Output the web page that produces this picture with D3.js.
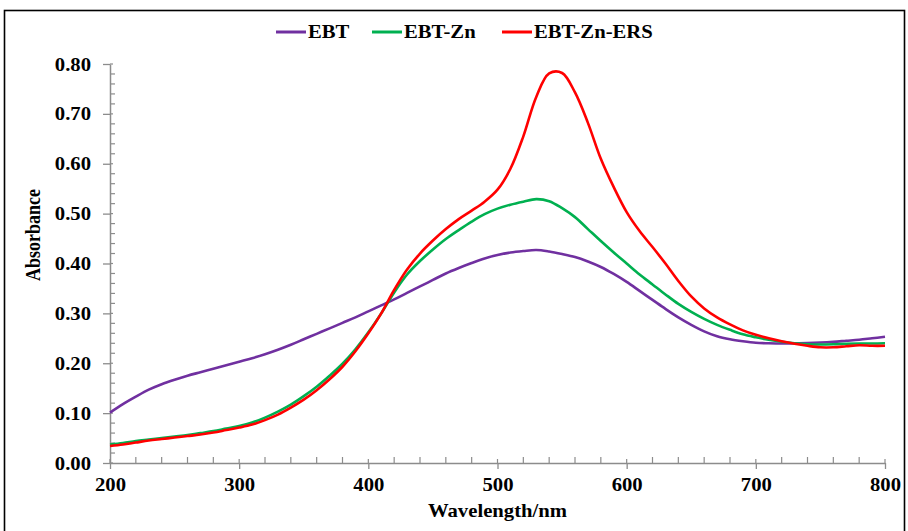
<!DOCTYPE html>
<html>
<head>
<meta charset="utf-8">
<script src="https://cdn.jsdelivr.net/npm/d3@7"></script>
<style>
  html, body { margin: 0; padding: 0; background: #fff; }
  svg { display: block; }
  text { font-family: "Liberation Serif", "Times New Roman", serif; font-weight: bold; fill: #000; }
</style>
</head>
<body>
<svg id="chart" width="908" height="531"></svg>
<script>
// UV-Vis absorption spectra, sampled every 10 nm
const wavelengths = d3.range(200, 801, 10);

const ebt = [
  0.101, 0.118, 0.133, 0.147, 0.158, 0.167, 0.175, 0.182, 0.189, 0.196, 0.203,
  0.210, 0.218, 0.227, 0.237, 0.248, 0.259, 0.270, 0.281, 0.292, 0.304,
  0.316, 0.328, 0.341, 0.354, 0.367, 0.380, 0.391, 0.401, 0.410, 0.417,
  0.422, 0.425, 0.427, 0.424, 0.419, 0.413, 0.404, 0.393, 0.379, 0.363,
  0.345, 0.327, 0.309, 0.292, 0.277, 0.264, 0.254, 0.248, 0.244, 0.241,
  0.240, 0.2395, 0.240, 0.2405, 0.2415, 0.243, 0.245, 0.247, 0.250, 0.253
];

const ebtZn = [
  0.037, 0.040, 0.044, 0.047, 0.050, 0.053, 0.056, 0.060, 0.064, 0.069, 0.074,
  0.081, 0.091, 0.103, 0.117, 0.134, 0.153, 0.175, 0.199, 0.228, 0.262,
  0.300, 0.342, 0.378, 0.405, 0.428, 0.449, 0.467, 0.484, 0.499, 0.510,
  0.518, 0.524, 0.529, 0.525, 0.511, 0.493, 0.469, 0.445, 0.422, 0.400,
  0.378, 0.358, 0.338, 0.319, 0.303, 0.289, 0.277, 0.267, 0.258, 0.252,
  0.247, 0.243, 0.240, 0.238, 0.2375, 0.238, 0.239, 0.2395, 0.2395, 0.240
];

const ebtZnErs = [
  0.034, 0.037, 0.041, 0.045, 0.048, 0.051, 0.054, 0.057, 0.061, 0.066, 0.071,
  0.077, 0.086, 0.097, 0.111, 0.127, 0.146, 0.168, 0.193, 0.224, 0.260,
  0.300, 0.347, 0.388, 0.420, 0.446, 0.469, 0.489, 0.506, 0.524, 0.548,
  0.590, 0.655, 0.734, 0.781, 0.782, 0.743, 0.682, 0.610, 0.553, 0.503,
  0.465, 0.433, 0.400, 0.365, 0.334, 0.310, 0.292, 0.278, 0.266, 0.257,
  0.250, 0.244, 0.239, 0.235, 0.232, 0.232, 0.234, 0.236, 0.235, 0.235
];

const seriesNames = ["EBT", "EBT-Zn", "EBT-Zn-ERS"];
const seriesValues = [ebt, ebtZn, ebtZnErs];
const seriesColors = ["#7030A0", "#00B050", "#FF0000"];

const xTicks = [200, 300, 400, 500, 600, 700, 800];
const yTicks = [0, 0.1, 0.2, 0.3, 0.4, 0.5, 0.6, 0.7, 0.8];
const xMinor = d3.range(200, 801, 20);
const yMinor = d3.range(0, 0.801, 0.02);

const svg = d3.select("#chart");
const axisColor = "#8c8c8c";
const stretch = 1.15; // glyphs are drawn slightly wide

// outer frame
svg.append("rect")
  .attr("x", 4.5).attr("y", 10.5)
  .attr("width", 900).attr("height", 560)
  .attr("fill", "none").attr("stroke", "#000").attr("stroke-width", 1.6);

const x = d3.scaleLinear().domain([200, 800]).range([110, 885]);
const y = d3.scaleLinear().domain([0, 0.8]).range([463, 64]);

// y axis: major ticks outward with labels
const yAxis = svg.append("g").attr("transform", `translate(${x(200)},0)`)
  .call(d3.axisLeft(y).tickValues(yTicks).tickSize(7).tickSizeOuter(0).tickFormat(d3.format(".2f")));
yAxis.select(".domain").attr("stroke", axisColor).attr("stroke-width", 1.5);
yAxis.selectAll(".tick line").attr("stroke", axisColor).attr("stroke-width", 1.3);
yAxis.selectAll(".tick text")
  .attr("x", null).attr("dy", null)
  .attr("font-size", 18).attr("text-anchor", "end")
  .attr("transform", `translate(-19,6) scale(${stretch},1)`);

// y axis inner ticks (minor and major)
svg.append("g").selectAll("line").data(yMinor).join("line")
  .attr("x1", x(200)).attr("x2", (d, i) => x(200) + (i % 5 === 0 ? 3 : 5))
  .attr("y1", d => y(d)).attr("y2", d => y(d))
  .attr("stroke", axisColor).attr("stroke-width", 1.2);

// x axis: major ticks outward with labels
const xAxis = svg.append("g").attr("transform", `translate(0,${y(0)})`)
  .call(d3.axisBottom(x).tickValues(xTicks).tickSize(6).tickSizeOuter(0).tickFormat(d3.format("d")));
xAxis.select(".domain").attr("stroke", axisColor).attr("stroke-width", 1.5);
xAxis.selectAll(".tick line").attr("stroke", axisColor).attr("stroke-width", 1.3);
xAxis.selectAll(".tick text")
  .attr("y", null).attr("dy", null)
  .attr("font-size", 18).attr("text-anchor", "middle")
  .attr("transform", `translate(0,28) scale(${stretch},1)`);

// x axis inner ticks
svg.append("g").selectAll("line").data(xMinor).join("line")
  .attr("x1", d => x(d)).attr("x2", d => x(d))
  .attr("y1", y(0)).attr("y2", (d, i) => y(0) - (i % 5 === 0 ? 4 : 6))
  .attr("stroke", axisColor).attr("stroke-width", 1.2);

// axis titles
svg.append("text")
  .attr("text-anchor", "middle").attr("font-size", 18)
  .attr("transform", `translate(${(x(200) + x(800)) / 2},517) scale(${stretch},1)`)
  .text("Wavelength/nm");

svg.append("text")
  .attr("text-anchor", "middle").attr("font-size", 18)
  .attr("transform", `translate(40,235) rotate(-90) scale(1,${stretch})`)
  .text("Absorbance");

// spectra
const line = d3.line()
  .x((d, i) => x(wavelengths[i]))
  .y(d => y(d))
  .curve(d3.curveCatmullRom.alpha(0.5));

svg.append("g").selectAll("path").data(seriesValues).join("path")
  .attr("d", d => line(d))
  .attr("fill", "none")
  .attr("stroke", (d, i) => seriesColors[i])
  .attr("stroke-width", 2.6)
  .attr("stroke-linejoin", "round");

// legend
const legendX = [276, 372, 502];
const legend = svg.append("g").selectAll("g").data(seriesNames).join("g")
  .attr("transform", (d, i) => `translate(${legendX[i]},32)`);
legend.append("line")
  .attr("x1", 0).attr("x2", 30).attr("y1", 0).attr("y2", 0)
  .attr("stroke", (d, i) => seriesColors[i]).attr("stroke-width", 3);
legend.append("text")
  .attr("font-size", 18)
  .attr("transform", `translate(32,6) scale(${stretch},1)`)
  .text(d => d);
</script>
</body>
</html>
